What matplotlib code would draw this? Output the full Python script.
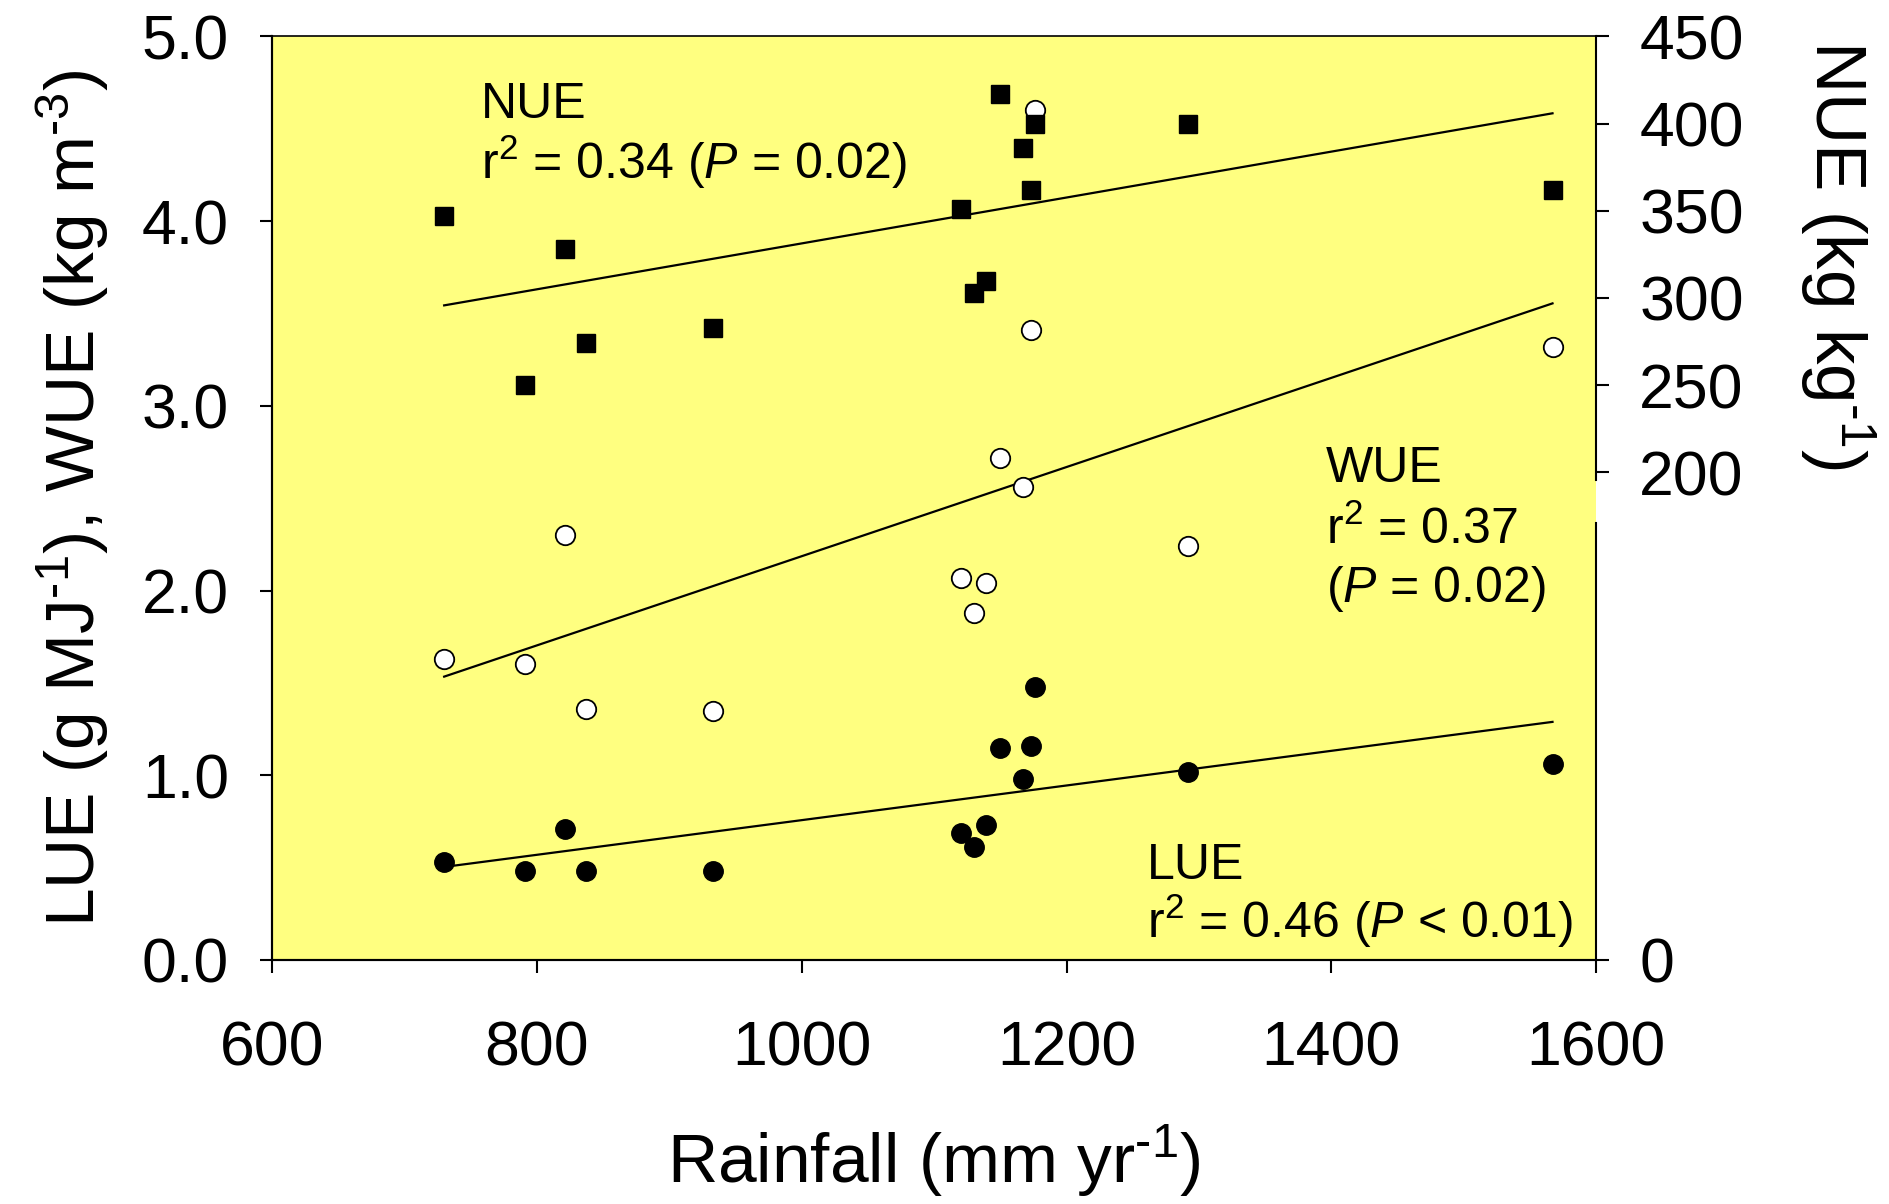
import numpy as np
import matplotlib.pyplot as plt
from matplotlib.lines import Line2D

plt.rcParams['font.family'] = ['Liberation Sans', 'DejaVu Sans']
plt.rcParams['mathtext.fontset'] = 'custom'
plt.rcParams['mathtext.rm'] = 'Liberation Sans'
plt.rcParams['mathtext.it'] = 'Liberation Sans:italic'

# rainfall per site (mm/yr)
rainfall = [730, 791, 821, 837, 933, 1120, 1130, 1139, 1150, 1167, 1173, 1176, 1292, 1567]
# light use efficiency (g/MJ)
lue = [0.53, 0.48, 0.71, 0.48, 0.48, 0.69, 0.61, 0.73, 1.15, 0.98, 1.16, 1.48, 1.02, 1.06]
# water use efficiency (kg/m3)
wue = [1.63, 1.60, 2.30, 1.36, 1.35, 2.07, 1.88, 2.04, 2.72, 2.56, 3.41, 4.60, 2.24, 3.32]
# nitrogen use efficiency (kg/kg), right axis
nue = [347, 250, 328, 274, 283, 351, 303, 310, 417, 386, 362, 400, 400, 362]

x = np.array(rainfall, dtype=float)
xfit = np.array([x.min(), x.max()])

fig = plt.figure(figsize=(18.89, 12.04), dpi=100)
ax = fig.add_axes([0.144, 0.2027, 0.701, 0.767])
ax.set_facecolor('#ffff80')
ax2 = ax.twinx()

# right axis is broken: 0 at the bottom, 200-450 above
nue_bottom = -79.8
ax2.set_ylim(nue_bottom, 450)
ax.set_ylim(0, 5)
ax.set_xlim(600, 1600)

# regression lines
for vals, a in [(lue, ax), (wue, ax), (nue, ax2)]:
    p = np.polyfit(x, np.array(vals), 1)
    a.plot(xfit, np.polyval(p, xfit), color='black', lw=1.6, zorder=2)

ax.plot(x, lue, 'o', ms=14, mfc='black', mec='black', zorder=3)
ax.plot(x, wue, 'o', ms=14, mfc='white', mec='black', mew=1.3, zorder=3)
ax2.plot(x, nue, 's', ms=13.5, mfc='black', mec='black', zorder=3)

ax.set_xticks([600, 800, 1000, 1200, 1400, 1600])
ax.set_yticks([0, 1, 2, 3, 4, 5])
ax.set_yticklabels(['0.0', '1.0', '2.0', '3.0', '4.0', '5.0'])
ax2.set_yticks([nue_bottom, 200, 250, 300, 350, 400, 450])
ax2.set_yticklabels(['0', '200', '250', '300', '350', '400', '450'])

for a in (ax, ax2):
    a.tick_params(direction='out', length=9, width=1.5, labelsize=45)
    for s in a.spines.values():
        s.set_linewidth(1.5)
ax.tick_params(axis='y', pad=22)
ax.tick_params(axis='x', pad=34)
ax2.tick_params(axis='y', pad=22)
ax2.spines['top'].set_visible(False)
ax.spines['right'].set_visible(False)
ax.spines['top'].set_linewidth(1.2)

# gap in the right spine
ax2.spines['right'].set_bounds(195.4, 450)
gap_lo = (170.8 - nue_bottom) / (450 - nue_bottom)
ax2.add_line(Line2D([1, 1], [0, gap_lo], transform=ax2.transAxes, color='black',
                    lw=1.5, clip_on=False))

hy = '\u2010'
ax.set_xlabel('Rainfall (mm yr$^{' + hy + '1}$)', fontsize=50, labelpad=32)
ax.set_ylabel('LUE (g MJ$^{' + hy + '1}$), WUE (kg m$^{' + hy + '3}$)', fontsize=50, labelpad=22)
fig.text(0.9725, 0.788, 'NUE (kg kg$^{' + hy + '1}$)', fontsize=51, rotation=270,
         ha='center', va='center')

fs = 36
ax.text(758, 4.56, 'NUE', fontsize=fs)
ax.text(758, 4.23, 'r$^2$ = 0.34 ($\\it{P}$ = 0.02)', fontsize=fs)
ax.text(1396, 2.59, 'WUE', fontsize=fs)
ax.text(1396, 2.25, 'r$^2$ = 0.37', fontsize=fs)
ax.text(1396, 1.94, '($\\it{P}$ = 0.02)', fontsize=fs)
ax.text(1261, 0.44, 'LUE', fontsize=fs)
ax.text(1261, 0.12, 'r$^2$ = 0.46 ($\\it{P}$ < 0.01)', fontsize=fs)

fig.savefig('out.png', dpi=100)
